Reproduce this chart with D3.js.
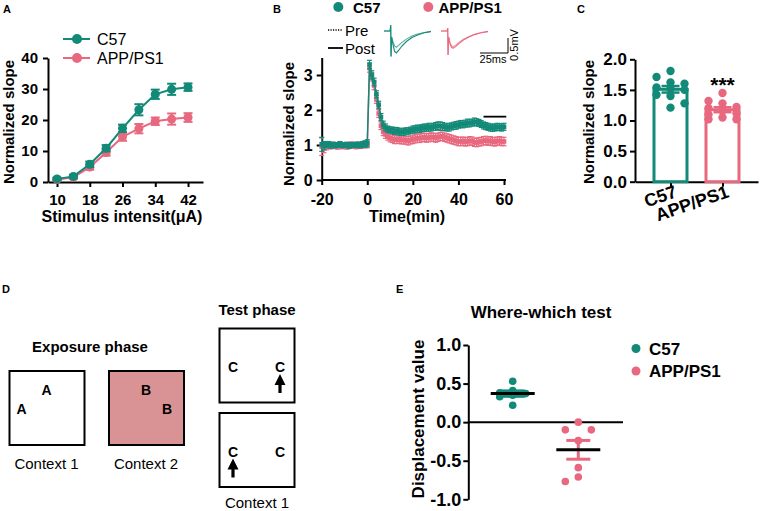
<!DOCTYPE html>
<html><head><meta charset="utf-8">
<script src="https://cdn.jsdelivr.net/npm/d3@7"></script>
<style>body{margin:0;background:#fff}svg{display:block}</style>
</head><body><svg id="fig" width="760" height="511"></svg>
<script>
// ---------------- DATA ----------------
const TEAL = "#138a78", PINK = "#e8697f", BOX2 = "#d99394";
const groups = ["C57", "APP/PS1"];

// Panel A: input-output curve
const stimIntensity = [10, 14, 18, 22, 26, 30, 34, 38, 42];
const ioC57    = [1.0, 1.8, 5.7, 10.9, 17.3, 23.3, 28.3, 29.9, 30.6];
const ioC57Err = [0.4, 0.5, 0.9, 1.0, 1.2, 1.8, 1.5, 1.8, 1.2];
const ioAPP    = [0.8, 1.5, 4.8, 9.5, 14.6, 17.2, 19.6, 20.3, 20.8];
const ioAPPErr = [0.4, 0.5, 0.8, 1.0, 1.3, 1.5, 1.2, 1.8, 1.4];
const aTicksX = [10, 18, 26, 34, 42];
const aTicksY = [0, 10, 20, 30, 40];

// Panel B: LTP time course
const ltpTime = [-20,-19,-18,-17,-16,-15,-14,-13,-12,-11,-10,-9,-8,-7,-6,-5,-4,-3,-2,-1,
  0,1,2,3,4,5,6,7,8,9,10,11,12,13,14,15,16,17,18,19,20,21,22,23,24,25,26,27,28,29,30,
  31,32,33,34,35,36,37,38,39,40,41,42,43,44,45,46,47,48,49,50,51,52,53,54,55,56,57,58,59,60];
const ltpC57 = [1.02,0.98,1.0,1.03,0.99,1.01,0.98,1.0,1.02,0.99,1.0,1.01,0.98,1.0,0.99,1.01,1.0,0.99,1.02,1.03,
  1.05,3.3,3.0,2.8,2.45,2.15,1.8,1.58,1.5,1.45,1.43,
  1.42,1.4,1.41,1.38,1.37,1.38,1.4,1.39,1.42,1.44,
  1.45,1.47,1.46,1.48,1.5,1.49,1.51,1.5,1.52,1.53,
  1.55,1.54,1.53,1.52,1.5,1.51,1.53,1.55,1.56,1.58,
  1.6,1.59,1.61,1.63,1.62,1.64,1.66,1.65,1.63,1.6,
  1.56,1.54,1.52,1.5,1.49,1.5,1.52,1.51,1.5,1.52];
const ltpC57Err = [0.2,0.12,0.08,0.07,0.08,0.07,0.06,0.07,0.08,0.07,0.06,0.07,0.08,0.07,0.06,0.07,0.08,0.07,0.08,0.09,
  0.1,0.12,0.12,0.11,0.1,0.1,0.1,0.1,0.1,0.09,0.09,
  0.09,0.1,0.09,0.1,0.09,0.1,0.09,0.1,0.09,0.1,
  0.1,0.1,0.1,0.1,0.1,0.1,0.11,0.1,0.1,0.11,
  0.11,0.12,0.11,0.1,0.1,0.11,0.1,0.1,0.11,0.1,
  0.1,0.1,0.1,0.11,0.1,0.1,0.11,0.1,0.1,0.1,
  0.1,0.1,0.1,0.1,0.1,0.1,0.1,0.1,0.1,0.1];
const ltpAPP = [0.95,0.93,0.96,0.98,0.97,0.99,0.98,0.97,1.0,0.98,0.99,0.97,0.98,1.0,0.99,0.98,1.0,0.99,1.0,1.01,
  1.02,3.2,2.95,2.7,2.3,1.9,1.55,1.38,1.3,1.25,1.2,
  1.18,1.16,1.15,1.17,1.14,1.15,1.13,1.12,1.14,1.16,
  1.18,1.2,1.19,1.21,1.22,1.2,1.21,1.23,1.22,1.2,
  1.22,1.24,1.25,1.22,1.2,1.18,1.16,1.14,1.12,1.1,
  1.1,1.11,1.09,1.1,1.12,1.11,1.08,1.07,1.09,1.1,
  1.12,1.13,1.11,1.12,1.1,1.09,1.11,1.12,1.1,1.1];
const ltpAPPErr = [0.25,0.15,0.1,0.09,0.08,0.09,0.08,0.09,0.08,0.09,0.08,0.09,0.08,0.09,0.08,0.09,0.08,0.09,0.08,0.09,
  0.1,0.12,0.12,0.12,0.11,0.11,0.11,0.11,0.11,0.11,0.11,
  0.11,0.12,0.11,0.12,0.11,0.12,0.11,0.12,0.11,0.12,
  0.12,0.12,0.12,0.12,0.12,0.12,0.12,0.12,0.12,0.12,
  0.12,0.12,0.12,0.12,0.12,0.12,0.12,0.12,0.12,0.12,
  0.12,0.12,0.12,0.12,0.12,0.12,0.12,0.12,0.12,0.12,
  0.12,0.12,0.12,0.12,0.12,0.12,0.12,0.12,0.12,0.12];
const ltpWindow = [51, 61];      // averaging window bar
const ltpWindowLevel = 1.81;
const bTicksX = [-20, 0, 20, 40, 60];
const bTicksY = [0, 1, 2, 3];

// EPSP example traces (ms, mV)
const traceT       = [0, 5.5, 6, 6.3, 6.8, 8, 9.5, 11, 13, 16, 20, 25, 30, 36, 42];
const traceC57Post = [0, 0, 0.2, -0.85, -0.2, -0.45, -0.68, -0.73, -0.65, -0.5, -0.35, -0.22, -0.13, -0.06, -0.02];
const traceC57Pre  = [0, 0, 0.2, -0.85, -0.2, -0.36, -0.5, -0.54, -0.48, -0.38, -0.27, -0.17, -0.1, -0.05, -0.01];
const traceAPPPost = [0, 0, 0.1, -0.8, -0.2, -0.42, -0.55, -0.57, -0.52, -0.42, -0.3, -0.2, -0.12, -0.06, -0.02];
const traceAPPPre  = [0, 0, 0.1, -0.8, -0.2, -0.38, -0.5, -0.52, -0.47, -0.38, -0.27, -0.18, -0.11, -0.05, -0.01];

// Panel C: last-10-min normalized slope
const cC57 = [1.81, 1.71, 1.62, 1.6, 1.54, 1.52, 1.5, 1.42, 1.4, 1.28, 1.21];
const cAPP = [1.45, 1.32, 1.28, 1.22, 1.2, 1.16, 1.12, 1.1, 1.05, 1.02, 1.02];
const cTicksY = [0, 0.5, 1.0, 1.5, 2.0];
const cTickLabels = ["0.0", "0.5", "1.0", "1.5", "2.0"];

// Panel E: where-which test
const eC57 = [0.53, 0.41, 0.38, 0.37, 0.35, 0.33, 0.22];
const eAPP = [0, -0.1, -0.1, -0.24, -0.59, -0.71, -0.77];
const eTicksY = [-1, -0.5, 0, 0.5, 1];
const eTickLabels = ["-1.0", "-0.5", "0.0", "0.5", "1.0"];

// ---------------- HELPERS ----------------
const FONT = "'Liberation Sans', Arial, Helvetica, sans-serif";
const svg = d3.select("#fig");
svg.append("rect").attr("width", 760).attr("height", 511).attr("fill", "#fff");

function txt(x, y, s, size, weight, anchor, color) {
  return svg.append("text").attr("x", x).attr("y", y).text(s)
    .attr("font-family", FONT).attr("font-size", size)
    .attr("font-weight", weight || "normal")
    .attr("text-anchor", anchor || "start").attr("fill", color || "#000");
}
function vtxt(cx, cy, s, size) {
  return svg.append("text").attr("transform", `translate(${cx},${cy}) rotate(-90)`)
    .attr("text-anchor", "middle").attr("dy", "0.35em").text(s)
    .attr("font-family", FONT).attr("font-size", size).attr("font-weight", "bold");
}
function styleAxis(g, fs) {
  g.attr("font-family", FONT).attr("font-size", fs).attr("font-weight", "bold");
  g.select(".domain").attr("stroke", "#000").attr("stroke-width", 2);
  g.selectAll(".tick line").attr("stroke", "#000").attr("stroke-width", 2);
  g.selectAll(".tick text").attr("fill", "#000");
  return g;
}
const mean = a => d3.mean(a);
const sem = a => d3.deviation(a) / Math.sqrt(a.length);
// scatter columns: centre, left, right (like a small aligned dot plot)
function dodge(values, y, r, step) {
  const placed = [];
  return values.map(v => {
    const py = y(v);
    let best = 0, bestD = -1;
    for (const k of [0, -1, 1]) {
      const px = k * step;
      const dmin = placed.length ? d3.min(placed, p => Math.hypot(p.x - px, p.y - py)) : Infinity;
      if (dmin >= 2 * r + 1) { best = px; bestD = Infinity; break; }
      if (dmin > bestD) { bestD = dmin; best = px; }
    }
    placed.push({x: best, y: py});
    return {v, dx: best};
  });
}

// ---------------- PANEL A ----------------
txt(3, 13, "A", 11, "bold");
const xA = d3.scaleLinear().domain([7.8, 45.66]).range([48, 203]);
const yA = d3.scaleLinear().domain([0, 40]).range([182, 58]);
styleAxis(svg.append("g").attr("transform", "translate(48,0)")
  .call(d3.axisLeft(yA).tickValues(aTicksY).tickSize(5).tickSizeOuter(0).tickPadding(5)), 15);
styleAxis(svg.append("g").attr("transform", "translate(0,182)")
  .call(d3.axisBottom(xA).tickValues(aTicksX).tickSize(5).tickSizeOuter(0).tickPadding(7)), 15);
vtxt(9, 122, "Normalized slope", 15);
txt(122, 222, "Stimulus intensit(\u03bcA)", 16, "bold", "middle");

function ioSeries(vals, errs, color) {
  const g = svg.append("g");
  const pts = stimIntensity.map((s, i) => ({x: s, y: vals[i], e: errs[i]}));
  g.append("path").datum(pts).attr("fill", "none").attr("stroke", color).attr("stroke-width", 2)
    .attr("d", d3.line().x(d => xA(d.x)).y(d => yA(d.y)));
  const eb = g.selectAll("g.eb").data(pts).join("g").attr("stroke", color).attr("stroke-width", 2);
  eb.append("line").attr("x1", d => xA(d.x)).attr("x2", d => xA(d.x))
    .attr("y1", d => yA(d.y - d.e)).attr("y2", d => yA(d.y + d.e));
  eb.append("line").attr("x1", d => xA(d.x) - 4.5).attr("x2", d => xA(d.x) + 4.5)
    .attr("y1", d => yA(d.y + d.e)).attr("y2", d => yA(d.y + d.e));
  eb.append("line").attr("x1", d => xA(d.x) - 4.5).attr("x2", d => xA(d.x) + 4.5)
    .attr("y1", d => yA(d.y - d.e)).attr("y2", d => yA(d.y - d.e));
  g.selectAll("circle").data(pts).join("circle").attr("cx", d => xA(d.x)).attr("cy", d => yA(d.y))
    .attr("r", 4.5).attr("fill", color);
}
ioSeries(ioAPP, ioAPPErr, PINK);
ioSeries(ioC57, ioC57Err, TEAL);
// legend A
[[TEAL, groups[0], 39], [PINK, groups[1], 58]].forEach(([c, s, y]) => {
  svg.append("line").attr("x1", 63).attr("x2", 90).attr("y1", y).attr("y2", y).attr("stroke", c).attr("stroke-width", 2);
  svg.append("circle").attr("cx", 77).attr("cy", y).attr("r", 5).attr("fill", c);
  txt(97, y + 5.5, s, 16);
});

// ---------------- PANEL B ----------------
txt(273, 13, "B", 11, "bold");
const xB = d3.scaleLinear().domain([-20, 60]).range([321.7, 504]);
const yB = d3.scaleLinear().domain([0, 3.5]).range([180, 57.5]);
styleAxis(svg.append("g").attr("transform", "translate(321.7,0)")
  .call(d3.axisLeft(yB).tickValues(bTicksY).tickSize(5).tickSizeOuter(0).tickPadding(4)
  .tickFormat(d => String(d))), 16);
const gxB = styleAxis(svg.append("g").attr("transform", "translate(0,180)")
  .call(d3.axisBottom(xB).tickValues(bTicksX).tickSize(5).tickSizeOuter(0).tickPadding(9)
  .tickFormat(d => String(d))), 16);
gxB.select(".domain").attr("d", `M321.7,0H506`);
vtxt(289, 124, "Normalized slope", 15);
txt(407, 222, "Time(min)", 16, "bold", "middle");

function ltpSeries(vals, errs, color) {
  const g = svg.append("g");
  const pts = ltpTime.map((t, i) => ({x: t, y: vals[i], e: errs[i]}));
  g.append("path").datum(pts).attr("fill", "none").attr("stroke", color).attr("stroke-width", 1.5)
    .attr("d", d3.line().x(d => xB(d.x)).y(d => yB(d.y)));
  const eb = g.selectAll("g.eb").data(pts).join("g").attr("stroke", color).attr("stroke-width", 1.2);
  eb.append("line").attr("x1", d => xB(d.x)).attr("x2", d => xB(d.x))
    .attr("y1", d => yB(d.y - d.e)).attr("y2", d => yB(d.y + d.e));
  eb.append("line").attr("x1", d => xB(d.x) - 2.5).attr("x2", d => xB(d.x) + 2.5)
    .attr("y1", d => yB(d.y + d.e)).attr("y2", d => yB(d.y + d.e));
  eb.append("line").attr("x1", d => xB(d.x) - 2.5).attr("x2", d => xB(d.x) + 2.5)
    .attr("y1", d => yB(d.y - d.e)).attr("y2", d => yB(d.y - d.e));
  g.selectAll("rect").data(pts).join("rect").attr("x", d => xB(d.x) - 2.3).attr("y", d => yB(d.y) - 2.3)
    .attr("width", 4.6).attr("height", 4.6).attr("fill", color);
}
ltpSeries(ltpAPP, ltpAPPErr, PINK);
ltpSeries(ltpC57, ltpC57Err, TEAL);
svg.append("line").attr("x1", xB(ltpWindow[0])).attr("x2", xB(ltpWindow[1]))
  .attr("y1", yB(ltpWindowLevel)).attr("y2", yB(ltpWindowLevel)).attr("stroke", "#000").attr("stroke-width", 1.8);

// legend B
[[TEAL, groups[0], 338.3, 353], [PINK, groups[1], 428.3, 438.5]].forEach(([c, s, cx, tx]) => {
  svg.append("circle").attr("cx", cx).attr("cy", 7).attr("r", 5).attr("fill", c);
  txt(tx, 12.5, s, 15, "bold");
});
svg.append("line").attr("x1", 328).attr("x2", 343).attr("y1", 30).attr("y2", 30)
  .attr("stroke", "#000").attr("stroke-width", 1.5).attr("stroke-dasharray", "1.2,1.3");
txt(345, 35.5, "Pre", 15);
svg.append("line").attr("x1", 328).attr("x2", 343).attr("y1", 48).attr("y2", 48)
  .attr("stroke", "#000").attr("stroke-width", 1.8);
txt(345, 53.5, "Post", 15);

// EPSP traces
const yTr = d3.scaleLinear().domain([0, -1]).range([31, 61]);
function trace(x0, vals, color, op) {
  const xTr = d3.scaleLinear().domain([0, 42]).range([x0, x0 + 47]);
  svg.append("path").datum(traceT.map((t, i) => [t, vals[i]]))
    .attr("fill", "none").attr("stroke", color).attr("stroke-width", 1.1)
    .attr("stroke-opacity", op)
    .attr("d", d3.line().x(d => xTr(d[0])).y(d => yTr(d[1])));
}
trace(384, traceC57Pre, TEAL, 0.7);
trace(384, traceC57Post, TEAL, 1);
trace(441, traceAPPPre, PINK, 0.7);
trace(441, traceAPPPost, PINK, 1);
// scale bar: 25 ms x 0.5 mV
const xSb = d3.scaleLinear().domain([0, 42]).range([0, 47]);
svg.append("path").attr("fill", "none").attr("stroke", "#000").attr("stroke-width", 1)
  .attr("d", `M${508 - xSb(25)},53H508V${53 - (yTr(-0.5) - yTr(0))}`);
txt(493, 63, "25ms", 11, "normal", "middle");
svg.append("text").attr("transform", "translate(518,45) rotate(-90)").attr("text-anchor", "middle")
  .attr("font-family", FONT).attr("font-size", 11).text("0.5mV");

// ---------------- PANEL C ----------------
txt(577, 13, "C", 11, "bold");
const yC = d3.scaleLinear().domain([0, 2]).range([181.7, 59.3]);
const xC = d3.scalePoint().domain(groups).range([635, 758]).padding(0.683);
styleAxis(svg.append("g").attr("transform", "translate(635,0)")
  .call(d3.axisLeft(yC).tickValues(cTicksY).tickSize(5).tickSizeOuter(0).tickPadding(3)
  .tickFormat((d, i) => cTickLabels[i])), 17);
const gxC = styleAxis(svg.append("g").attr("transform", "translate(0,181.7)")
  .call(d3.axisBottom(xC).tickSize(5).tickSizeOuter(0)), 18);
gxC.selectAll(".tick text").attr("text-anchor", "end").attr("x", 0).attr("y", 0).attr("dy", 0)
  .attr("transform", "translate(7,15) rotate(-19)");
vtxt(589, 122, "Normalized slope", 15);

[[cC57, TEAL], [cAPP, PINK]].forEach(([vals, color], gi) => {
  const cx = xC(groups[gi]);
  const m = mean(vals), s = sem(vals);
  svg.append("rect").attr("x", cx - 16.5).attr("y", yC(m)).attr("width", 33).attr("height", yC(0) - yC(m))
    .attr("fill", "none").attr("stroke", color).attr("stroke-width", 3);
  const e = svg.append("g").attr("stroke", color).attr("stroke-width", 2.5);
  e.append("line").attr("x1", cx).attr("x2", cx).attr("y1", yC(m - s)).attr("y2", yC(m + s));
  e.append("line").attr("x1", cx - 9).attr("x2", cx + 9).attr("y1", yC(m + s)).attr("y2", yC(m + s));
  e.append("line").attr("x1", cx - 9).attr("x2", cx + 9).attr("y1", yC(m - s)).attr("y2", yC(m - s));
  svg.selectAll(null).data(dodge(vals, yC, 4, 14)).join("circle")
    .attr("cx", d => cx + d.dx).attr("cy", d => yC(d.v)).attr("r", 4.2).attr("fill", color);
});
txt(xC(groups[1]), yC(d3.max(cAPP)) - 1, "***", 21, "bold", "middle");

// ---------------- PANEL D ----------------
txt(2, 293, "D", 11, "bold");
txt(90, 352, "Exposure phase", 15, "bold", "middle");
txt(257, 315, "Test phase", 15, "bold", "middle");
function box(x, y, fill) {
  svg.append("rect").attr("x", x).attr("y", y).attr("width", 75).attr("height", 74)
    .attr("fill", fill).attr("stroke", "#000").attr("stroke-width", 2);
}
box(9.5, 371, "#fff");
box(109, 371, BOX2);
box(219.5, 328.5, "#fff");
box(219.5, 413, "#fff");
const objLetters = [["A", 46.5, 395], ["A", 21.5, 414], ["B", 146, 395], ["B", 167, 414],
  ["C", 233, 372], ["C", 280, 372], ["C", 233, 456.5], ["C", 280, 456.5]];
objLetters.forEach(([s, x, y]) => txt(x, y, s, 14, "bold", "middle"));
function arrow(x, yTip) {
  svg.append("path").attr("fill", "#000")
    .attr("d", `M${x},${yTip}L${x + 5.5},${yTip + 11}H${x + 1.6}V${yTip + 19}H${x - 1.6}V${yTip + 11}H${x - 5.5}Z`);
}
arrow(280, 374);
arrow(233, 458.5);
txt(46.5, 469, "Context 1", 15, "normal", "middle");
txt(146, 469, "Context 2", 15, "normal", "middle");
txt(257, 508, "Context 1", 15, "normal", "middle");

// ---------------- PANEL E ----------------
txt(396, 293, "E", 11, "bold");
txt(541, 318, "Where-which test", 17, "bold", "middle");
const yE = d3.scaleLinear().domain([-1, 1]).range([499.3, 345]);
const xE = d3.scalePoint().domain(groups).range([512.7, 578.3]);
styleAxis(svg.append("g").attr("transform", "translate(468.3,0)")
  .call(d3.axisLeft(yE).tickValues(eTicksY).tickSize(5).tickSizeOuter(0).tickPadding(2)
  .tickFormat((d, i) => eTickLabels[i])), 18);
svg.append("line").attr("x1", 468.3).attr("x2", 623).attr("y1", yE(0)).attr("y2", yE(0))
  .attr("stroke", "#000").attr("stroke-width", 2);
vtxt(418.5, 419, "Displacement value", 17);
[[eC57, TEAL], [eAPP, PINK]].forEach(([vals, color], gi) => {
  const cx = xE(groups[gi]);
  const m = mean(vals), s = sem(vals);
  svg.selectAll(null).data(dodge(vals, yE, 3.8, 13)).join("circle")
    .attr("cx", d => cx + d.dx).attr("cy", d => yE(d.v)).attr("r", 3.8).attr("fill", color);
  const e = svg.append("g").attr("stroke", color).attr("stroke-width", 3);
  e.append("line").attr("x1", cx).attr("x2", cx).attr("y1", yE(m - s)).attr("y2", yE(m + s));
  e.append("line").attr("x1", cx - 12).attr("x2", cx + 12).attr("y1", yE(m + s)).attr("y2", yE(m + s));
  e.append("line").attr("x1", cx - 12).attr("x2", cx + 12).attr("y1", yE(m - s)).attr("y2", yE(m - s));
  svg.append("line").attr("x1", cx - 22).attr("x2", cx + 22).attr("y1", yE(m)).attr("y2", yE(m))
    .attr("stroke", "#000").attr("stroke-width", 3);
});
[[TEAL, groups[0], 348.5], [PINK, groups[1], 371]].forEach(([c, s, y]) => {
  svg.append("circle").attr("cx", 636).attr("cy", y).attr("r", 4.5).attr("fill", c);
  txt(649, y + 6, s, 17, "bold");
});
</script></body></html>
